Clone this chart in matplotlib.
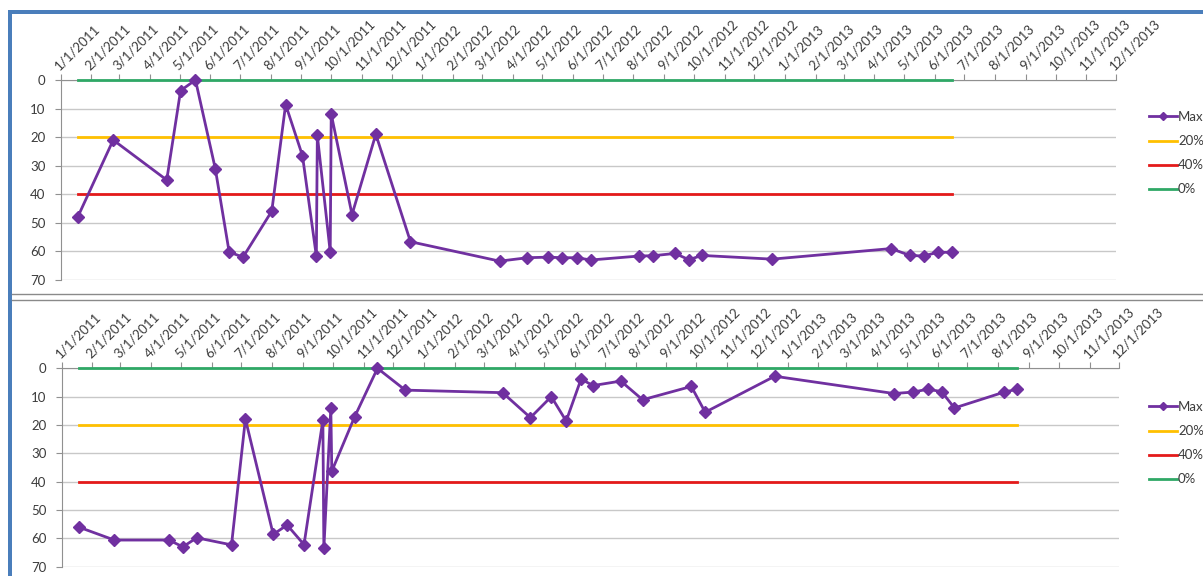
import datetime as dt
import matplotlib
matplotlib.use("Agg")
import matplotlib.pyplot as plt
import matplotlib.dates as mdates
from matplotlib.patches import Rectangle
from matplotlib.lines import Line2D

plt.rcParams['font.family'] = ['Lato', 'DejaVu Sans']

# chart 1 (top)
dates_top = ["1/18/2011", "2/23/2011", "4/18/2011", "5/2/2011", "5/17/2011", "6/6/2011",
             "6/20/2011", "7/4/2011", "8/2/2011", "8/16/2011", "9/2/2011", "9/16/2011",
             "9/17/2011", "9/30/2011", "10/1/2011", "10/22/2011", "11/15/2011", "12/20/2011",
             "3/19/2012", "4/16/2012", "5/7/2012", "5/21/2012", "6/5/2012", "6/19/2012",
             "8/7/2012", "8/21/2012", "9/12/2012", "9/26/2012", "10/9/2012", "12/19/2012",
             "4/18/2013", "5/7/2013", "5/21/2013", "6/4/2013", "6/18/2013"]
max_top = [48.1, 21.0, 35.0, 3.7, 0.0, 31.0,
           60.2, 62.0, 45.9, 8.6, 26.5, 61.6,
           19.4, 60.2, 11.9, 47.1, 19.0, 56.6,
           63.4, 62.2, 62.0, 62.2, 62.2, 63.0,
           61.6, 61.5, 60.7, 62.9, 61.4, 62.7,
           59.0, 61.4, 61.6, 60.3, 60.3]

# chart 2 (bottom)
dates_bottom = ["1/18/2011", "2/23/2011", "4/19/2011", "5/3/2011", "5/17/2011", "6/21/2011",
                "7/5/2011", "8/2/2011", "8/16/2011", "9/2/2011", "9/21/2011", "9/22/2011",
                "9/29/2011", "9/30/2011", "10/23/2011", "11/15/2011", "12/13/2011",
                "3/20/2012", "4/17/2012", "5/8/2012", "5/23/2012", "6/7/2012", "6/19/2012",
                "7/17/2012", "8/8/2012", "9/26/2012", "10/10/2012", "12/19/2012",
                "4/18/2013", "5/7/2013", "5/22/2013", "6/5/2013", "6/18/2013",
                "8/7/2013", "8/20/2013"]
max_bottom = [56.0, 60.6, 60.6, 63.0, 59.8, 62.3,
              17.9, 58.6, 55.3, 62.2, 18.3, 63.5,
              14.1, 36.3, 17.1, 0.0, 7.7,
              8.6, 17.4, 10.0, 18.6, 3.8, 6.1,
              4.5, 11.1, 6.4, 15.5, 2.8,
              8.9, 8.4, 7.4, 8.2, 14.0,
              8.4, 7.4]

threshold_labels = ["20%", "40%", "0%"]
threshold_values = [20, 40, 0]
threshold_colors = ["#FFC000", "#E41A1A", "#2FA866"]
max_color = "#7030A0"

y_ticks = [0, 10, 20, 30, 40, 50, 60, 70]
axis_start = dt.datetime(2011, 1, 1)
axis_end = dt.datetime(2013, 12, 1)

W, H = 1203, 576
text_color = "#3C3C3C"


def to_dates(strings):
    return [dt.datetime.strptime(s, "%m/%d/%Y") for s in strings]


def fmt_date(x, pos=None):
    d = mdates.num2date(x)
    return f"{d.month}/{d.day}/{d.year}"


def px_rect(x0, y0, x1, y1):
    # pixel box (top-left origin) -> figure fraction rect
    return [x0 / W, 1 - y1 / H, (x1 - x0) / W, (y1 - y0) / H]


def draw_chart(ax, dates, values, legend_top):
    dates = to_dates(dates)
    for lab, val, col in zip(threshold_labels, threshold_values, threshold_colors):
        ax.plot(dates, [val] * len(dates), color=col, lw=2.0, zorder=3, clip_on=False)
    ax.plot(dates, values, color=max_color, lw=2.0, marker='D', markersize=6.5,
            zorder=4, clip_on=False)

    ax.set_xlim(axis_start, axis_end)
    ax.set_ylim(70, 0)
    ax.set_yticks(y_ticks)
    ax.yaxis.grid(True, color="#C8C8C8", lw=1)
    ax.set_axisbelow(True)

    ax.xaxis.tick_top()
    ax.xaxis.set_major_locator(mdates.MonthLocator())
    ax.xaxis.set_major_formatter(plt.FuncFormatter(fmt_date))
    ax.tick_params(axis='x', which='both', direction='out', length=4, color="#909090",
                   labelsize=9.5, labelcolor=text_color, pad=2)
    ax.tick_params(axis='y', direction='out', length=4, color="#909090",
                   labelsize=9.5, labelcolor=text_color, pad=7)
    for lbl in ax.get_xticklabels():
        lbl.set_rotation(45)
        lbl.set_ha('left')
        lbl.set_va('bottom')
        lbl.set_rotation_mode('anchor')

    for side in ['right', 'bottom']:
        ax.spines[side].set_visible(False)
    ax.spines['left'].set_color("#909090")
    ax.spines['top'].set_color("#909090")

    handles = [Line2D([], [], color=max_color, lw=2.0, marker='D', markersize=4.5)]
    handles += [Line2D([], [], color=c, lw=2.0) for c in threshold_colors]
    labels = ["Max"] + threshold_labels
    ax.legend(handles, labels, loc='upper left', bbox_to_anchor=(1149 / W, 1 - legend_top / H),
              bbox_transform=ax.figure.transFigure, frameon=False, fontsize=9.5,
              handlelength=2.1, handletextpad=0.1, labelspacing=0.92,
              borderpad=0, borderaxespad=0, labelcolor=text_color)


fig = plt.figure(figsize=(W / 100, H / 100), dpi=100)

ax1 = fig.add_axes(px_rect(60.7, 80, 1116, 280))
draw_chart(ax1, dates_top, max_top, 111)

ax2 = fig.add_axes(px_rect(61.7, 368.3, 1119.3, 566.7))
draw_chart(ax2, dates_bottom, max_bottom, 401)

# frame pieces from the screenshot
blue = "#4A7EBB"
fig.add_artist(Rectangle((8 / W, 1 - 14 / H), (W - 8) / W, 4 / H, transform=fig.transFigure,
                         color=blue, lw=0))
fig.add_artist(Rectangle((8 / W, 0), 4 / W, (H - 10) / H, transform=fig.transFigure,
                         color=blue, lw=0))
for yy in [294, 300]:
    fig.add_artist(Line2D([12 / W, 1], [1 - yy / H, 1 - yy / H], transform=fig.transFigure,
                          color="#8A8A8A", lw=1))

fig.savefig("out.png", dpi=100)
